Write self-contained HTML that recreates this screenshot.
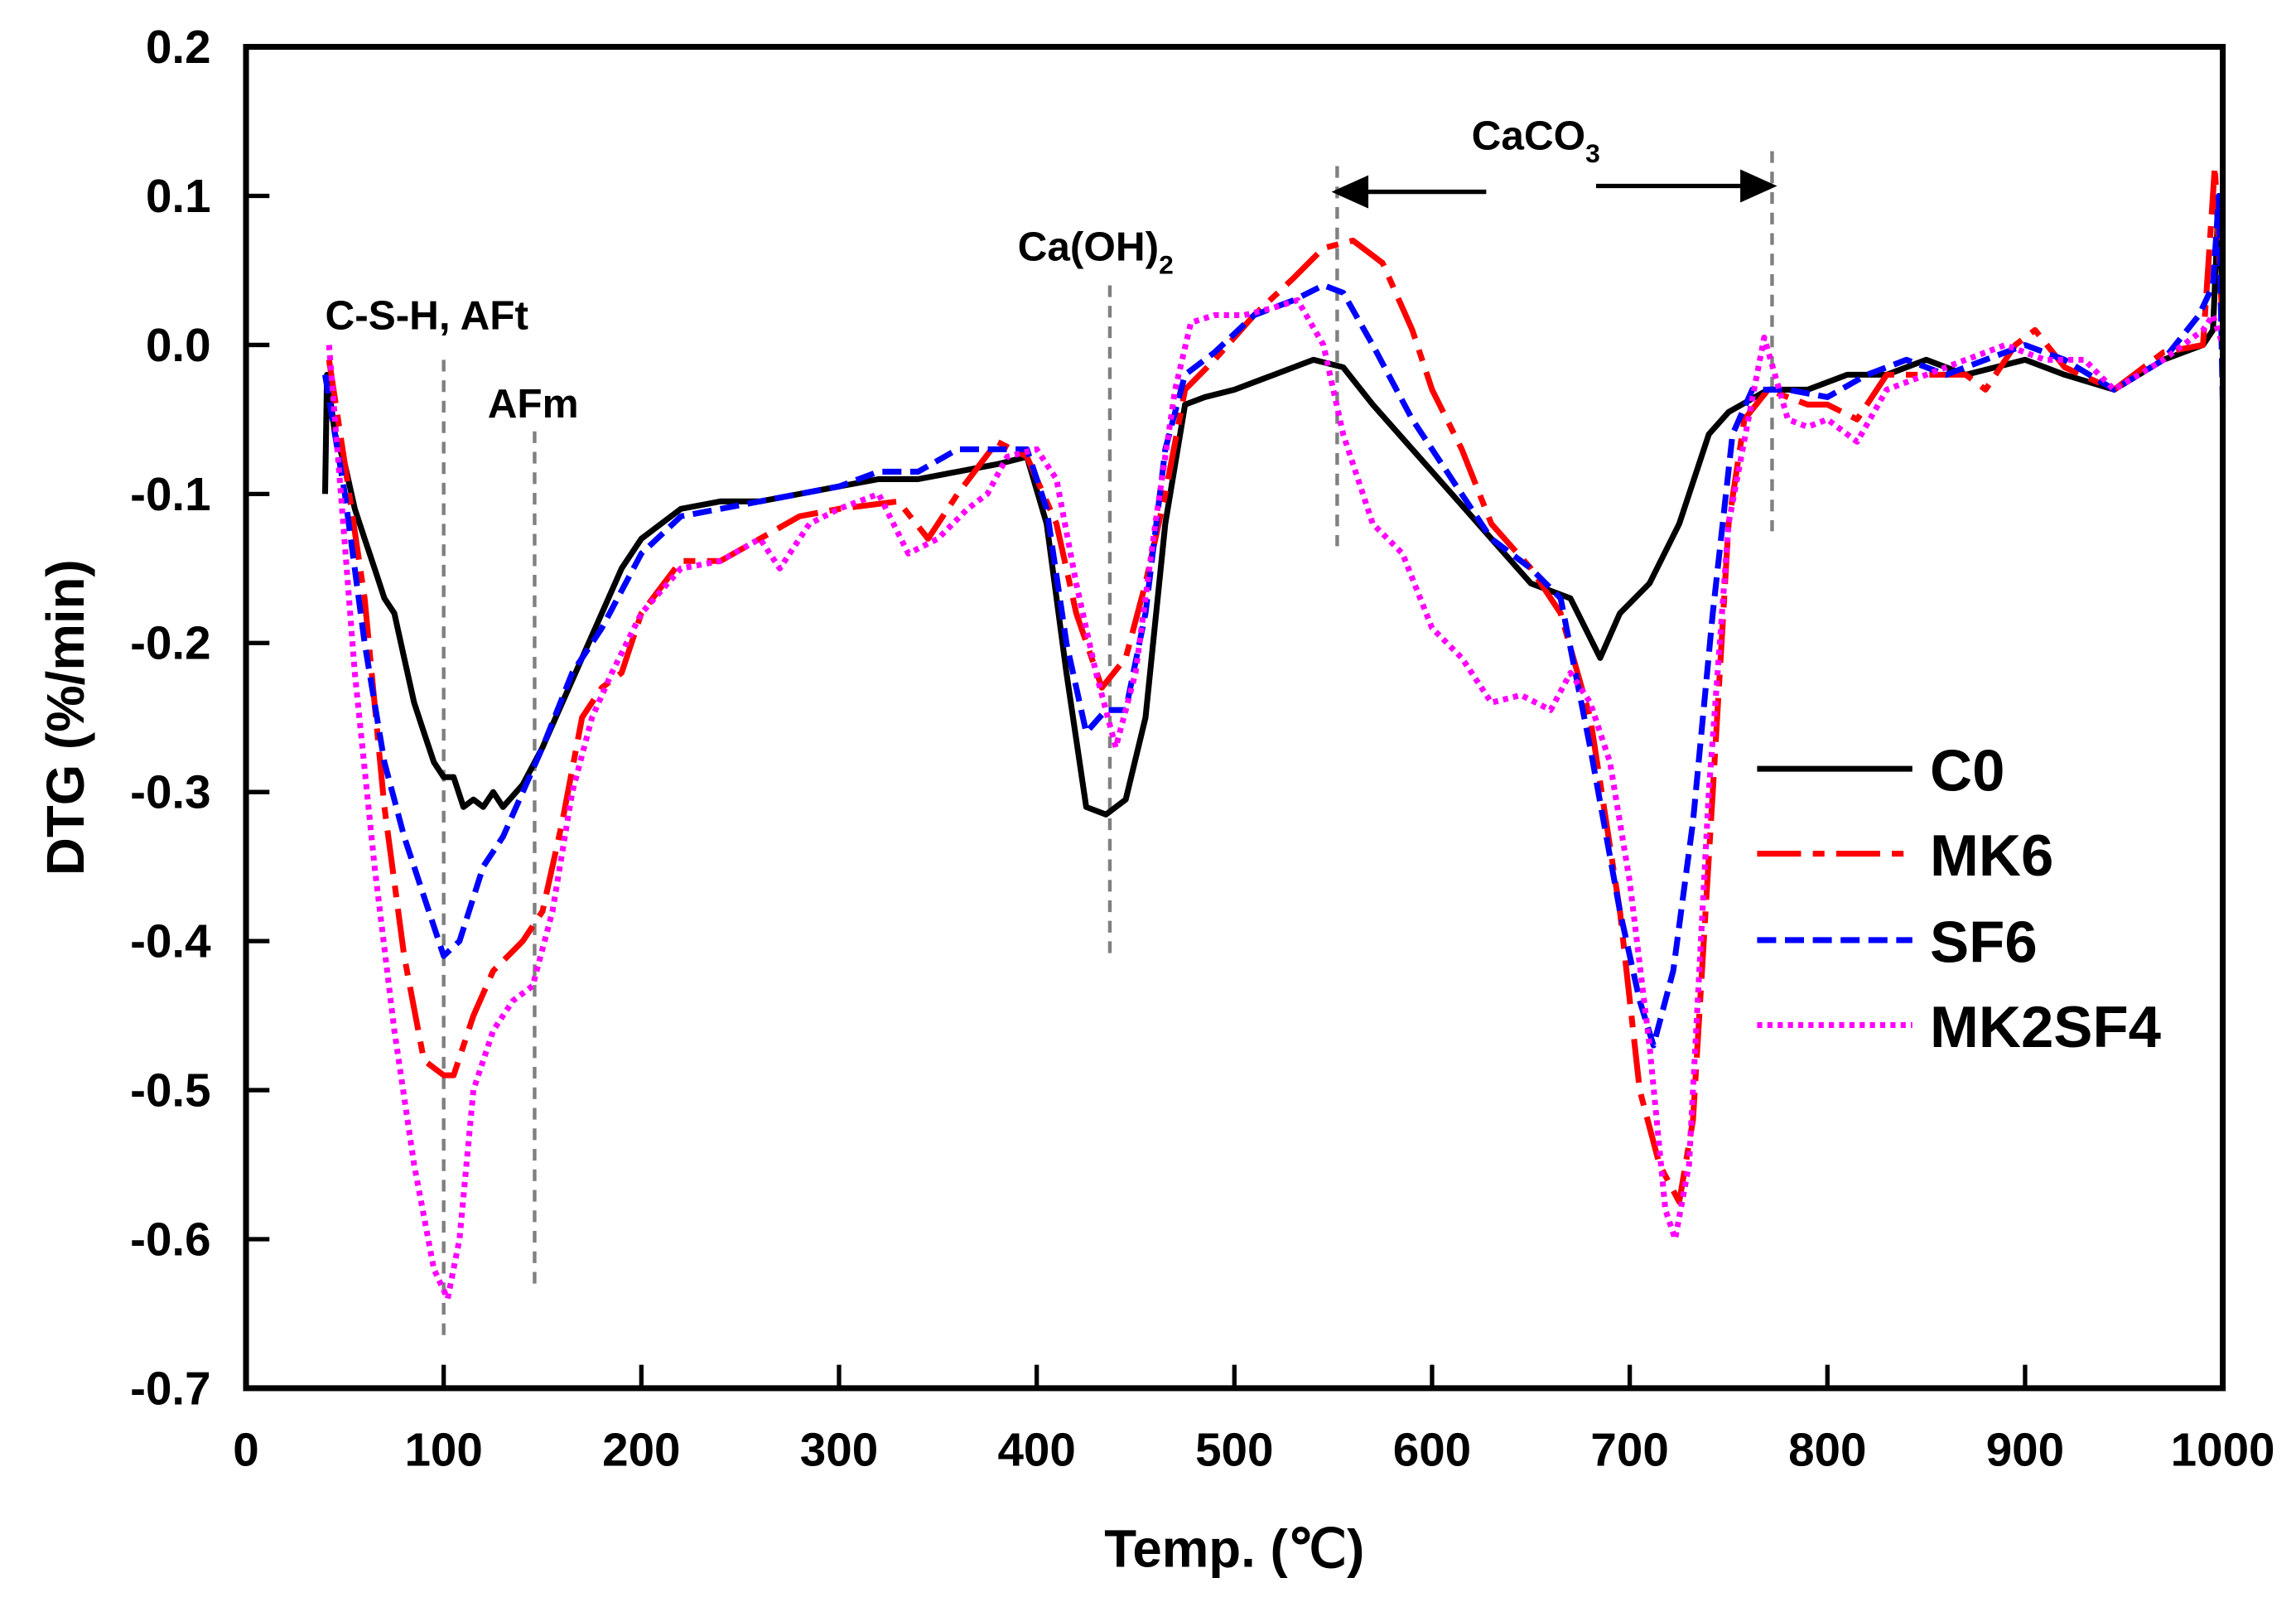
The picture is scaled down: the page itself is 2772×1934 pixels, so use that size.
<!DOCTYPE html>
<html><head><meta charset="utf-8"><style>
html,body{margin:0;padding:0;background:#fff;}
svg{display:block;}
text{font-family:"Liberation Sans",Arial,sans-serif;}
</style></head><body>
<svg id="chart" width="2772" height="1934" viewBox="0 0 1568 1094" xmlns="http://www.w3.org/2000/svg">
<rect x="0" y="0" width="1568" height="1094" fill="#fff"/>
<g id="annot">
<text x="1005" y="102" font-size="28" font-weight="bold">CaCO<tspan font-size="18" dy="9">3</tspan></text>
<text x="695" y="178" font-size="28" font-weight="bold">Ca(OH)<tspan font-size="18" dy="9">2</tspan></text>
</g>
<g id="series"></g>
<g id="axes"></g>
<g id="legend"></g>
</svg>
<script>
const xTicks=[0,100,200,300,400,500,600,700,800,900,1000];
const yTicks=[0.2,0.1,0.0,-0.1,-0.2,-0.3,-0.4,-0.5,-0.6,-0.7];
const yTickLabels=["0.2","0.1","0.0","-0.1","-0.2","-0.3","-0.4","-0.5","-0.6","-0.7"];
const seriesNames=["C0","MK6","SF6","MK2SF4"];
const c0T=[40,41,45,50,55,60,65,70,75,80,85,90,95,100,105,110,115,120,125,130,140,150,160,170,180,190,200,210,220,240,260,280,300,320,340,360,380,395,405,415,425,435,445,455,465,475,485,500,520,540,555,570,590,610,630,650,670,685,695,710,725,740,750,770,790,810,830,850,870,900,920,945,970,990,995,998,1000];
const c0V=[-0.10,-0.02,-0.06,-0.08,-0.11,-0.13,-0.15,-0.17,-0.18,-0.21,-0.24,-0.26,-0.28,-0.29,-0.29,-0.31,-0.305,-0.31,-0.30,-0.31,-0.295,-0.27,-0.24,-0.21,-0.18,-0.15,-0.13,-0.12,-0.11,-0.105,-0.105,-0.10,-0.095,-0.09,-0.09,-0.085,-0.08,-0.075,-0.12,-0.22,-0.31,-0.315,-0.305,-0.25,-0.12,-0.04,-0.035,-0.03,-0.02,-0.01,-0.015,-0.04,-0.07,-0.10,-0.13,-0.16,-0.17,-0.21,-0.18,-0.16,-0.12,-0.06,-0.045,-0.03,-0.03,-0.02,-0.02,-0.01,-0.02,-0.01,-0.02,-0.03,-0.01,0.0,0.01,0.10,0.03];
const mk6T=[42,50,60,70,80,90,100,105,115,125,140,150,160,170,180,190,200,220,240,260,280,300,330,345,360,380,395,410,420,433,445,455,465,475,490,510,530,545,560,575,590,600,615,630,650,665,680,695,705,715,725,732,742,750,758,770,790,800,815,830,850,870,880,895,905,920,945,970,990,996,1000];
const mk6V=[-0.01,-0.08,-0.17,-0.31,-0.41,-0.48,-0.49,-0.49,-0.45,-0.42,-0.40,-0.38,-0.32,-0.25,-0.23,-0.22,-0.18,-0.145,-0.145,-0.13,-0.115,-0.11,-0.105,-0.13,-0.10,-0.065,-0.075,-0.12,-0.18,-0.23,-0.21,-0.16,-0.10,-0.03,-0.01,0.02,0.045,0.065,0.07,0.055,0.01,-0.03,-0.07,-0.12,-0.15,-0.18,-0.25,-0.38,-0.50,-0.55,-0.575,-0.52,-0.30,-0.12,-0.05,-0.03,-0.04,-0.04,-0.05,-0.02,-0.02,-0.02,-0.03,0.0,0.01,-0.015,-0.03,-0.005,0.0,0.12,0.01];
const sf6T=[40,50,60,70,80,90,100,108,120,130,140,150,165,180,200,220,240,260,280,300,320,340,360,380,395,405,415,425,435,445,455,465,475,490,510,530,545,555,570,590,610,630,650,665,680,695,705,712,722,732,742,752,762,780,800,820,840,860,880,900,920,945,970,988,995,998,1000];
const sf6V=[-0.02,-0.10,-0.20,-0.28,-0.33,-0.37,-0.41,-0.40,-0.35,-0.33,-0.30,-0.27,-0.22,-0.19,-0.14,-0.115,-0.11,-0.105,-0.10,-0.095,-0.085,-0.085,-0.07,-0.07,-0.07,-0.11,-0.20,-0.26,-0.245,-0.245,-0.18,-0.07,-0.02,-0.005,0.02,0.03,0.04,0.035,0.0,-0.05,-0.09,-0.13,-0.15,-0.17,-0.27,-0.38,-0.44,-0.47,-0.42,-0.32,-0.18,-0.06,-0.03,-0.03,-0.035,-0.02,-0.01,-0.02,-0.01,0.0,-0.01,-0.03,-0.01,0.02,0.04,0.10,-0.04];
const mixT=[42,48,55,65,75,85,95,102,108,115,125,135,145,155,165,175,185,200,220,240,260,270,285,300,320,335,350,365,375,385,400,410,420,430,440,450,460,470,478,490,505,520,532,545,555,570,585,600,615,630,645,660,670,680,690,700,710,718,723,730,740,750,760,768,780,790,800,815,830,850,870,890,910,930,945,970,990,995,1000];
const mixV=[0.0,-0.10,-0.22,-0.35,-0.46,-0.55,-0.62,-0.64,-0.60,-0.50,-0.46,-0.44,-0.43,-0.38,-0.30,-0.25,-0.22,-0.18,-0.15,-0.145,-0.13,-0.15,-0.12,-0.11,-0.10,-0.14,-0.13,-0.11,-0.10,-0.075,-0.07,-0.09,-0.16,-0.22,-0.27,-0.22,-0.12,-0.03,0.015,0.02,0.02,0.025,0.03,0.0,-0.06,-0.12,-0.14,-0.19,-0.21,-0.24,-0.235,-0.245,-0.22,-0.24,-0.28,-0.36,-0.47,-0.58,-0.60,-0.55,-0.30,-0.12,-0.05,0.005,-0.05,-0.055,-0.05,-0.065,-0.03,-0.02,-0.01,0.0,-0.01,-0.01,-0.03,-0.01,0.01,0.02,0.0];

const NS="http://www.w3.org/2000/svg";
const X0=168,X1=1518,Y0=948,Y1=32;
function sx(t){return X0+(t-0)/1000*(X1-X0);}
function sy(v){return Y0-(v+0.7)/0.9*(Y0-Y1);}
function mk(tag,attrs,parent){const e=document.createElementNS(NS,tag);for(const k in attrs)e.setAttribute(k,attrs[k]);parent.appendChild(e);return e;}

const annot=document.getElementById('annot');
const vlines=[[100,-0.01,-0.665],[146,-0.058,-0.633],[437,0.04,-0.41],[552,0.12,-0.135],[772,0.13,-0.125]];
vlines.forEach((v,i)=>{
  const l=mk('line',{x1:sx(v[0]),x2:sx(v[0]),y1:sy(v[1]),y2:sy(v[2]),stroke:'#808080','stroke-width':2.5,'stroke-dasharray':'8,6'},annot);
  
  
});
const labels=[["C-S-H, AFt",222,225],["AFm",333,285]];
labels.forEach((a,i)=>{
  const t=mk('text',{x:a[1],y:a[2],'font-size':28,'font-weight':'bold',fill:'#000'},annot);
  t.textContent=a[0];
  
  
});
const ar1=mk('path',{d:'M1015 131 L925 131 M913 131 L933 122 L933 140 Z',stroke:'#000','stroke-width':3,fill:'#000'},annot);


const ar2=mk('path',{d:'M1090 127 L1198 127 M1210 127 L1190 118 L1190 136 Z',stroke:'#000','stroke-width':3,fill:'#000'},annot);



const styles=[{c:'#000',d:'none'},{c:'#ff0000',d:'30,8,8,8'},{c:'#0000ff',d:'13,6'},{c:'#ff00ff',d:'3.5,3.5'}];
const dataT=[c0T,mk6T,sf6T,mixT],dataV=[c0V,mk6V,sf6V,mixV];
const sg=document.getElementById('series');
dataT.forEach((T,i)=>{
  let d='';T.forEach((t,j)=>{d+=(j?'L':'M')+sx(t).toFixed(1)+' '+sy(dataV[i][j]).toFixed(1)+' ';});
  const p=mk('path',{d:d,fill:'none',stroke:styles[i].c,'stroke-width':4,'stroke-linejoin':'round','stroke-dasharray':styles[i].d},sg);
  
  
});

const ax=document.getElementById('axes');
const frame=mk('rect',{x:X0,y:Y1,width:X1-X0,height:Y0-Y1,fill:'none',stroke:'#000','stroke-width':4},ax);


xTicks.forEach((t,i)=>{
  const l=mk('line',{x1:sx(t),x2:sx(t),y1:Y0,y2:Y0-16,stroke:'#000','stroke-width':3},ax);
  
  
  const tx=mk('text',{x:sx(t),y:Y0+53,'font-size':32,'font-weight':'bold','text-anchor':'middle'},ax);
  tx.textContent=String(t);
  
  
});
yTicks.forEach((v,i)=>{
  const l=mk('line',{x1:X0,x2:X0+16,y1:sy(v),y2:sy(v),stroke:'#000','stroke-width':3},ax);
  
  
  const tx=mk('text',{x:144,y:sy(v)+11,'font-size':32,'font-weight':'bold','text-anchor':'end'},ax);
  tx.textContent=yTickLabels[i];
  
  
});
const xt=mk('text',{x:843,y:1070,'font-size':36,'font-weight':'bold','text-anchor':'middle'},ax);
xt.textContent='Temp. (℃)';


const yt=mk('text',{x:0,y:0,'font-size':36,'font-weight':'bold','text-anchor':'middle',transform:'translate(57,490) rotate(-90)'},ax);
yt.textContent='DTG (%/min)';



const lg=document.getElementById('legend');
const ly=[525,583,642,700];
seriesNames.forEach((n,i)=>{
  const l=mk('line',{x1:1200,x2:1306,y1:ly[i],y2:ly[i],stroke:styles[i].c,'stroke-width':4,'stroke-dasharray':styles[i].d},lg);
  
  
  const t=mk('text',{x:1318,y:ly[i]+15,'font-size':40,'font-weight':'bold'},lg);
  t.textContent=n;
  
  
});
</script>
</body></html>
